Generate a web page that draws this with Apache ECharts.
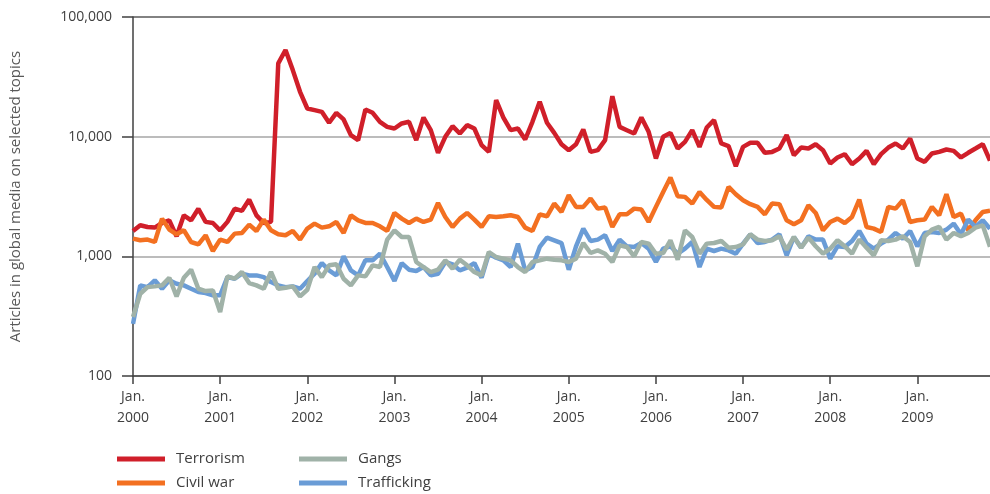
<!DOCTYPE html>
<html>
<head>
<meta charset="utf-8">
<script src="https://cdn.jsdelivr.net/npm/echarts@6/dist/echarts.min.js"></script>
<style>
  html, body { margin: 0; padding: 0; background: #fff; }
  #chart { width: 990px; height: 494px; }
</style>
</head>
<body>
<div id="chart"></div>
<script>
// month labels, Jan. 2000 onwards (last month is cut off by the right edge)
const years = [2000, 2001, 2002, 2003, 2004, 2005, 2006, 2007, 2008, 2009]
const monthNames = ['Jan.', 'Feb.', 'Mar.', 'Apr.', 'May', 'Jun.', 'Jul.', 'Aug.', 'Sep.', 'Oct.', 'Nov.', 'Dec.']
const months = years.flatMap(y => monthNames.map(m => m + ' ' + y)).slice(0, 119)

const yTicks = [100, 1000, 10000, 100000]

// articles per month
const terrorism = [
  1630, 1820, 1760, 1740, 1900, 2000, 1470, 2200, 2000, 2500, 1940, 1900,
  1650, 1940, 2500, 2400, 2980, 2200, 1900, 1940, 40950, 52950, 36000, 23700,
  17200, 16660, 16130, 13060, 15820, 13930, 10300, 9350, 16870, 15820, 13310, 12080,
  11700, 12890, 13310, 9350, 14450, 11330, 7330, 9970, 12240, 10620, 12480, 11700,
  8490, 7460, 20200, 14450, 11330, 11700, 9470, 13310, 19550, 13060, 10760, 8650,
  7710, 8650, 11480, 7460, 7710, 9350, 21800, 12080, 11330, 10620, 14450, 10970,
  6570, 9970, 10760, 7960, 9050, 11330, 8220, 11930, 13750, 8770, 8340, 5660,
  8220, 8880, 8880, 7330, 7460, 7960, 10300, 7000, 8110, 7960, 8650, 7710,
  5970, 6700, 7140, 5890, 6570, 7610, 5890, 7140, 8110, 8770, 7960, 9660,
  6570, 6160, 7230, 7460, 7810, 7610, 6700, 7330, 7960, 8650, 6300
]
const civilWar = [
  1406, 1361, 1380, 1318, 2066, 1672, 1528, 1650, 1318, 1260, 1499, 1108,
  1380, 1318, 1548, 1566, 1841, 1630, 2027, 1650, 1528, 1499, 1630, 1380,
  1705, 1876, 1738, 1782, 1937, 1567, 2203, 2000, 1900, 1900, 1782, 1630,
  2305, 2066, 1900, 2066, 1937, 2027, 2794, 2133, 1760, 2066, 2305, 2027,
  1760, 2162, 2133, 2162, 2203, 2133, 1738, 1630, 2245, 2162, 2760, 2350,
  3240, 2590, 2590, 3040, 2505, 2555, 1760, 2245, 2245, 2505, 2460, 1937,
  2590, 3450, 4550, 3180, 3140, 2760, 3450, 2960, 2590, 2555, 3800, 3300,
  2940, 2725, 2590, 2245, 2760, 2725, 2000, 1853, 2000, 2672, 2305, 1650,
  1937, 2066, 1900, 2133, 2980, 1760, 1705, 1598, 2590, 2505, 2940, 1937,
  2000, 2027, 2590, 2203, 3300, 2133, 2275, 1650, 2000, 2350, 2400
]
const gangs = [
  311, 487, 553, 561, 572, 663, 463, 663, 774, 536, 513, 519,
  343, 680, 650, 740, 598, 572, 536, 740, 536, 547, 561, 463,
  526, 814, 671, 841, 857, 650, 572, 693, 680, 841, 814, 1378,
  1650, 1451, 1451, 897, 814, 739, 773, 926, 788, 938, 841, 739,
  693, 1087, 987, 956, 926, 814, 739, 897, 926, 956, 938, 926,
  897, 956, 1293, 1066, 1122, 1052, 897, 1236, 1197, 1000, 1318, 1277,
  1052, 1066, 1361, 938, 1650, 1451, 1052, 1277, 1293, 1344, 1182, 1197,
  1260, 1528, 1380, 1344, 1361, 1470, 1137, 1451, 1182, 1433, 1213, 1052,
  1159, 1361, 1213, 1052, 1380, 1182, 1019, 1361, 1344, 1380, 1470, 1318,
  825, 1470, 1672, 1760, 1380, 1566, 1470, 1566, 1738, 1817, 1200
]
const trafficking = [
  273, 572, 553, 630, 536, 630, 590, 572, 536, 503, 493, 472,
  472, 671, 650, 716, 693, 693, 671, 610, 572, 553, 561, 536,
  622, 716, 879, 763, 693, 1000, 763, 693, 926, 926, 1052, 814,
  622, 879, 773, 754, 814, 693, 716, 897, 857, 763, 804, 879,
  663, 1052, 975, 926, 814, 1277, 763, 814, 1197, 1433, 1361, 1290,
  773, 1213, 1705, 1344, 1380, 1499, 1108, 1380, 1213, 1197, 1293, 1159,
  897, 1159, 1213, 1052, 1159, 1318, 814, 1159, 1108, 1159, 1122, 1052,
  1277, 1528, 1293, 1318, 1380, 1528, 1019, 1451, 1182, 1470, 1380, 1380,
  956, 1213, 1197, 1340, 1630, 1277, 1159, 1277, 1380, 1566, 1406, 1630,
  1213, 1566, 1598, 1566, 1672, 1876, 1528, 2027, 1760, 2000, 1700
]

let myChart = echarts.init(document.getElementById('chart'))

let axisColor = '#404040'
let textColor = '#404040'

let legendBase = {
  orient: 'vertical',
  top: 449,
  padding: 0,
  itemWidth: 48,
  itemHeight: 5,
  itemGap: 4,
  icon: 'rect',
  textStyle: {
    fontSize: 15,
    color: textColor,
    lineHeight: 20,
    padding: [0, 0, 0, 6]
  }
}

let option = {
  animation: false,
  backgroundColor: '#fff',
  textStyle: { fontFamily: 'Open Sans' },
  grid: {
    left: 133,
    right: -3.5,
    top: 17,
    bottom: 118,
    containLabel: false
  },
  legend: [
    Object.assign({}, legendBase, { left: 117, data: ['Terrorism', 'Civil war'] }),
    Object.assign({}, legendBase, { left: 299, data: ['Gangs', 'Trafficking'] })
  ],
  xAxis: {
    type: 'category',
    boundaryGap: false,
    data: months,
    axisLine: { lineStyle: { color: axisColor, width: 1.5 } },
    axisTick: {
      interval: i => i % 12 === 0,
      length: 8,
      lineStyle: { color: axisColor, width: 1.5 }
    },
    axisLabel: {
      interval: i => i % 12 === 0,
      formatter: v => v.replace(' ', '\n'),
      fontSize: 14,
      lineHeight: 21,
      color: textColor,
      margin: 11
    },
    splitLine: { show: false }
  },
  yAxis: {
    type: 'log',
    logBase: 10,
    min: yTicks[0],
    max: yTicks[yTicks.length - 1],
    name: 'Articles in global media on selected topics',
    nameLocation: 'middle',
    nameGap: 110,
    nameTextStyle: { fontSize: 15, color: '#595959' },
    axisLine: { show: true, lineStyle: { color: axisColor, width: 1.5 } },
    axisTick: { show: true, length: 11, lineStyle: { color: axisColor, width: 1.5 } },
    minorTick: { show: false },
    axisLabel: {
      formatter: v => Number(v).toLocaleString('en-US'),
      fontSize: 14,
      color: textColor,
      margin: 21
    },
    splitLine: {
      show: true,
      lineStyle: { color: ['#a6a6a6', '#a6a6a6', '#a6a6a6', '#595959'], width: 1.5 }
    }
  },
  series: [
    {
      name: 'Terrorism',
      type: 'line',
      data: terrorism,
      showSymbol: false,
      symbol: 'none',
      color: '#d01f2a',
      lineStyle: { width: 4.5 }
    },
    {
      name: 'Civil war',
      type: 'line',
      data: civilWar,
      showSymbol: false,
      symbol: 'none',
      color: '#f37021',
      lineStyle: { width: 4.5 }
    },
    {
      name: 'Trafficking',
      type: 'line',
      data: trafficking,
      showSymbol: false,
      symbol: 'none',
      color: '#6a9cd6',
      lineStyle: { width: 4.5 }
    },
    {
      name: 'Gangs',
      type: 'line',
      data: gangs,
      showSymbol: false,
      symbol: 'none',
      color: '#a0b2a8',
      lineStyle: { width: 4.5 }
    }
  ]
}

myChart.setOption(option)
</script>
</body>
</html>
